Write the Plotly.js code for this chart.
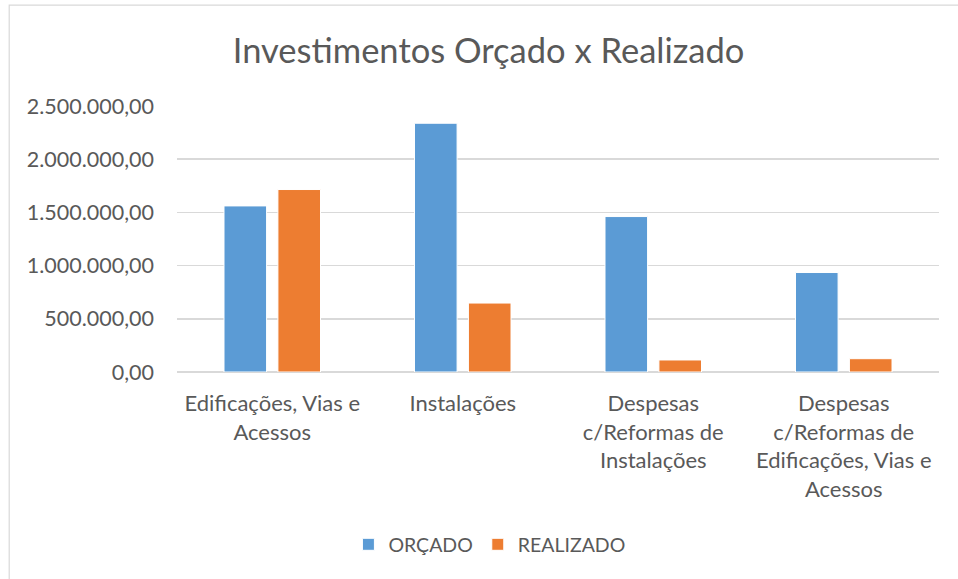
<!DOCTYPE html>
<html>
<head>
<meta charset="utf-8">
<script src="https://cdn.plot.ly/plotly-3.0.1.min.js"></script>
<style>
  html, body { margin: 0; padding: 0; background: #ffffff; }
  #chart { width: 958px; height: 579px; }
</style>
</head>
<body>
<div id="chart"></div>
<script>
const categories = [
  "Edificações, Vias e<br>Acessos",
  "Instalações",
  "Despesas<br>c/Reformas de<br>Instalações",
  "Despesas<br>c/Reformas de<br>Edificações, Vias e<br>Acessos"
];
const orcado = [1561000, 2338000, 1461000, 935000];
const realizado = [1715000, 648000, 113000, 125000];
const yTickVals = [0, 500000, 1000000, 1500000, 2000000, 2500000];

const FONT = "Lato, 'Open Sans', sans-serif";
const GREY = "#595959";

const traces = [
  {
    type: "bar", name: "ORÇADO", x: categories, y: orcado,
    marker: { color: "#5B9BD5", line: { color: "#ffffff", width: 1 } },
    hoverinfo: "none"
  },
  {
    type: "bar", name: "REALIZADO", x: categories, y: realizado,
    marker: { color: "#ED7D31", line: { color: "#ffffff", width: 1 } },
    hoverinfo: "none"
  }
];

const layout = {
  width: 958, height: 579,
  margin: { l: 177, r: 19, t: 106, b: 207 },
  paper_bgcolor: "#ffffff", plot_bgcolor: "#ffffff",
  separators: ",.",
  font: { family: FONT, color: GREY, size: 20 },
  title: {
    text: "Investimentos Orçado x Realizado",
    font: { family: FONT, size: 34.5, color: GREY },
    x: 0.51, xanchor: "center",
    yref: "container", y: 1 - 51 / 579, yanchor: "middle"
  },
  barmode: "group",
  bargap: 0.434,
  bargroupgap: 0.21,
  showlegend: true,
  legend: {
    orientation: "h", x: 0.41, xanchor: "center",
    y: -0.649, yanchor: "middle",
    font: { family: FONT, size: 19.5, color: GREY },
    itemclick: false, itemdoubleclick: false
  },
  xaxis: {
    type: "category",
    showgrid: false, zeroline: false, showline: false,
    ticks: "", ticklabelstandoff: 16,
    tickfont: { family: FONT, size: 22, color: GREY },
    fixedrange: true
  },
  yaxis: {
    range: [0, 2500000],
    tickvals: yTickVals,
    tickformat: ",.2f",
    showgrid: true, gridcolor: "#d9d9d9", gridwidth: 1.5,
    zeroline: true, zerolinecolor: "#d9d9d9", zerolinewidth: 1.5,
    showline: false, ticks: "", ticklabelstandoff: 22,
    tickfont: { family: FONT, size: 21.5, color: GREY },
    fixedrange: true
  },
  shapes: [
    {
      type: "rect", xref: "paper", yref: "paper",
      x0: (9 - 177) / 763, x1: 1.2,
      y0: (372.3 - 5) / 266.3, y1: -1.0,
      line: { color: "#d9d9d9", width: 1.2 },
      layer: "below"
    }
  ]
};

Plotly.newPlot("chart", traces, layout, { displayModeBar: false, staticPlot: true });
</script>
</body>
</html>
